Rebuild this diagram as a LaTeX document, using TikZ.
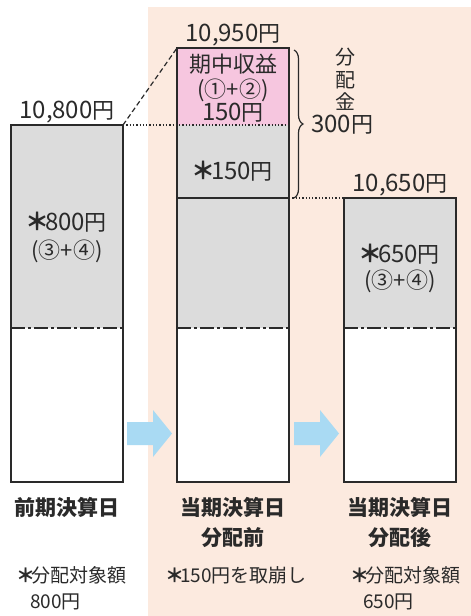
\documentclass[tikz,border=0pt]{standalone}
\usepackage{fontspec}
\setmainfont{Noto Sans CJK JP}
\usetikzlibrary{decorations.pathreplacing}
\definecolor{peach}{HTML}{FCEADF}
\definecolor{pinkfill}{HTML}{F6C6DF}
\definecolor{grayfill}{HTML}{DCDCDC}
\definecolor{arrowblue}{HTML}{A9DAF3}
\definecolor{ink}{HTML}{2A2A2A}
\newcommand\jk[1]{{\fontsize{22}{26}\selectfont #1}}
\newcommand\astr{\hspace{-2pt}{\bfseries ＊}\hspace{-4pt}}
\newcommand\astn{\hspace{-2pt}{\bfseries ＊}\hspace{-4pt}}
\begin{document}
\begin{tikzpicture}[x=1pt,y=-1pt,
  base/.style={inner sep=0pt,text=ink,text depth=0pt},
  txt/.style={base,text height=17pt,font=\fontsize{24}{28}\selectfont},
  paren/.style={base,text height=16pt,font=\fontsize{22}{26}\selectfont},
  vert/.style={base,text height=15pt,font=\fontsize{20}{24}\selectfont},
  bold/.style={base,text height=16pt,font=\fontsize{21}{25}\selectfont\bfseries},
  note/.style={base,text height=14.5pt,font=\fontsize{19}{23}\selectfont},
  barline/.style={draw=ink,line width=1.4pt},
  dashdot/.style={draw=ink,line width=1.4pt,dash pattern=on 14pt off 3pt on 3pt off 3pt},
  dotline/.style={draw=ink,line width=1.3pt,dotted},
  dashline/.style={draw=ink,line width=1.2pt,dash pattern=on 5pt off 3pt},
  blockarrow/.style={fill=arrowblue}
]
\useasboundingbox (0,0) rectangle (471,616);
\fill[white] (0,0) rectangle (471,616);
\fill[peach] (148,7) rectangle (471,616);

% coordinates
\coordinate (b1tl) at (11,125);
\coordinate (b1tr) at (123,125);
\coordinate (b1br) at (123,482);
\coordinate (b2tl) at (177,48);
\coordinate (b2tr) at (289,48);
\coordinate (b2ml) at (177,125);
\coordinate (b2mr) at (289,125);
\coordinate (b2sl) at (177,198);
\coordinate (b2sr) at (289,198);
\coordinate (b2br) at (289,482);
\coordinate (b3tl) at (344,198);
\coordinate (b3br) at (456,482);

% bar 1
\fill[grayfill] (11,125) rectangle (123,328);
\fill[white] (11,328) rectangle (123,482);
\draw[dashdot] (11,328) -- (123,328);
\draw[barline] (b1tl) rectangle (b1br);

% bar 2
\fill[pinkfill] (177,48) rectangle (289,125);
\fill[grayfill] (177,125) rectangle (289,328);
\fill[white] (177,328) rectangle (289,482);
\draw[dashdot] (177,328) -- (289,328);
\draw[barline] (b2sl) -- (b2sr);
\draw[barline] (b2tl) rectangle (b2br);

% bar 3
\fill[grayfill] (344,198) rectangle (456,328);
\fill[white] (344,328) rectangle (456,482);
\draw[dashdot] (344,328) -- (456,328);
\draw[barline] (b3tl) rectangle (b3br);

% connectors
\draw[dashline] (b1tr) -- (b2tl);
\draw[dotline] (b1tr) -- (b2ml) -- (b2mr);
\draw[dotline] (b2sr) -- (b3tl);

% brace
\coordinate (brtop) at (294,50);
\coordinate (brbot) at (294,198);
\draw[draw=ink,line width=1.2pt,decorate,decoration={brace,amplitude=9pt}] (brtop) -- (brbot);

% block arrows
\fill[blockarrow] (127,422) -- (153,422) -- (153,410) -- (172,433.5) -- (153,457) -- (153,445) -- (127,445) -- cycle;
\fill[blockarrow] (294,422) -- (320,422) -- (320,410) -- (339,433.5) -- (320,457) -- (320,445) -- (294,445) -- cycle;

% top labels
\node[txt] (v1) at (67,110) {10,800\jk{円}};
\node[txt] (v2) at (233,33) {10,950\jk{円}};
\node[txt] (v3) at (400,183) {10,650\jk{円}};

% inside labels
\node[txt] (p1) at (233,64) {\jk{期中収益}};
\node[paren] (p2) at (233,89) {(①+②)};
\node[txt] (p3) at (233,112) {150\jk{円}};
\node[txt] (g2) at (233,171) {\astr150\jk{円}};
\node[txt] (g1a) at (67,222) {\astr800\jk{円}};
\node[paren] (g1b) at (67,250) {(③+④)};
\node[txt] (g3a) at (400,254) {\astr650\jk{円}};
\node[paren] (g3b) at (400,280) {(③+④)};

% distribution
\node[vert] (d1) at (345,57) {分};
\node[vert] (d2) at (345,80) {配};
\node[vert] (d3) at (345,102) {金};
\node[txt,anchor=west] (d4) at (311,124) {300\jk{円}};

% bottom labels
\node[bold] (l1) at (67,507) {前期決算日};
\node[bold] (l2a) at (233,507) {当期決算日};
\node[bold] (l2b) at (233,537) {分配前};
\node[bold] (l3a) at (400,507) {当期決算日};
\node[bold] (l3b) at (400,537) {分配後};

\node[note,anchor=west] (n1a) at (18,575) {\astn 分配対象額};
\node[note,anchor=west] (n1b) at (30,601) {800円};
\node[note,anchor=west] (n2) at (167,575) {\astn 150円を取崩し};
\node[note,anchor=west] (n3a) at (352,575) {\astn 分配対象額};
\node[note,anchor=west] (n3b) at (363,601) {650円};
\end{tikzpicture}
\end{document}
